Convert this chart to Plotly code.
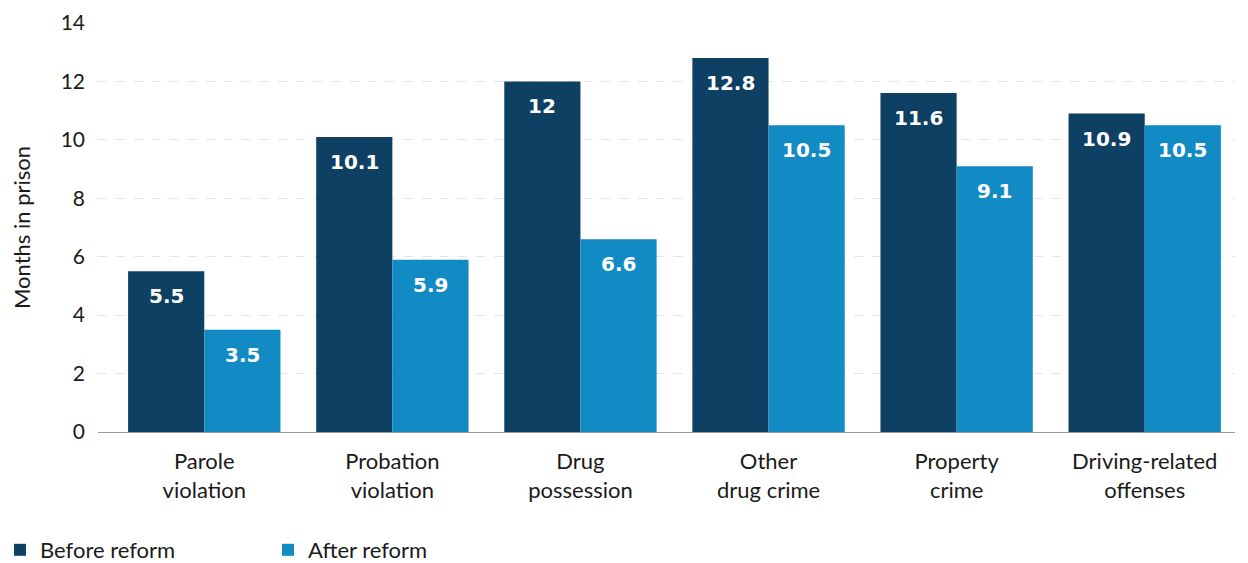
import plotly.graph_objects as go

categories = ["Parole<br>violation", "Probation<br>violation", "Drug<br>possession",
              "Other<br>drug crime", "Property<br>crime", "Driving-related<br>offenses"]
before = [5.5, 10.1, 12, 12.8, 11.6, 10.9]
after = [3.5, 5.9, 6.6, 10.5, 9.1, 10.5]
before_labels = ["5.5", "10.1", "12", "12.8", "11.6", "10.9"]
after_labels = ["3.5", "5.9", "6.6", "10.5", "9.1", "10.5"]
y_ticks = [0, 2, 4, 6, 8, 10, 12, 14]

C_BEFORE = "#0d4063"
C_AFTER = "#128ac3"
FONT = "Lato, 'Open Sans', sans-serif"
TXT = "#1a1a1a"

xs = list(range(len(categories)))
bargap = 0.19
half = (1 - bargap) / 4

fig = go.Figure()
fig.add_bar(x=xs, y=before, name="Before reform", marker=dict(color=C_BEFORE, line=dict(width=0)))
fig.add_bar(x=xs, y=after, name="After reform", marker=dict(color=C_AFTER, line=dict(width=0)))

for i in xs:
    for val, lab, off in ((before[i], before_labels[i], -half), (after[i], after_labels[i], half)):
        fig.add_annotation(x=i + off, y=val, text=lab, showarrow=False, yshift=-25,
                           font=dict(family="'DejaVu Sans', sans-serif", size=20, color="white", weight="bold"),
                           xref="x", yref="y")

fig.update_layout(
    barmode="group", bargap=bargap, bargroupgap=0,
    width=1240, height=555,
    margin=dict(l=90, r=13, t=15, b=131, autoexpand=False),
    plot_bgcolor="white", paper_bgcolor="white",
    font=dict(family=FONT, color=TXT, size=20),
    showlegend=True,
    legend=dict(orientation="h", xref="paper", yref="paper",
                x=-0.0862, xanchor="left", y=-0.2885, yanchor="middle",
                font=dict(size=22, color=TXT), entrywidth=223, entrywidthmode="pixels",
                itemsizing="constant", traceorder="normal"),
    xaxis=dict(tickmode="array", tickvals=xs, ticktext=categories, range=[-0.565, 5.48],
               showgrid=False, showline=True, linecolor="#999999", linewidth=1,
               ticks="", tickfont=dict(size=22, color=TXT), ticklabelstandoff=10),
    yaxis=dict(range=[0, 14], tickvals=y_ticks, showgrid=True, gridcolor="#e4e4e4", gridwidth=1,
               griddash="dash", zeroline=False, showline=False, ticks="",
               tickfont=dict(size=21, color=TXT), ticklabelstandoff=12,
               title=dict(text="Months in prison", font=dict(size=22, color=TXT), standoff=24)),
)

fig.write_html("out.html")
